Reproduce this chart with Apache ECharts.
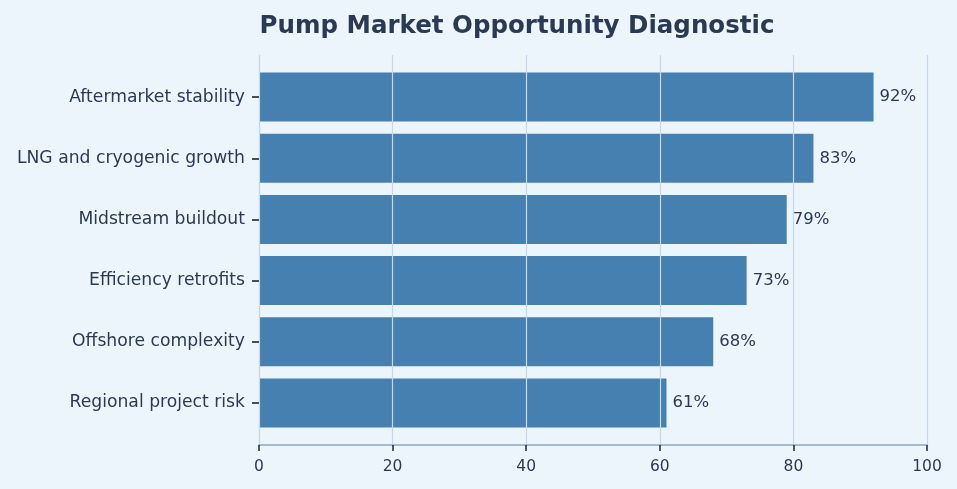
<!DOCTYPE html>
<html>
<head>
<meta charset="utf-8">
<script src="https://cdn.jsdelivr.net/npm/echarts@6/dist/echarts.min.js"></script>
<style>
  html, body { margin: 0; padding: 0; background: #EDF5FC; }
  #chart { width: 957px; height: 489px; }
</style>
</head>
<body>
<div id="chart"></div>
<script>
// drivers, top to bottom as drawn
var categories = ['Aftermarket stability', 'LNG and cryogenic growth', 'Midstream buildout',
                  'Efficiency retrofits', 'Offshore complexity', 'Regional project risk'];
var scores = [92, 83, 79, 73, 68, 61];
var xTicks = [0, 20, 40, 60, 80, 100];

var textColor = '#2B3A52';
var font = 'DejaVu Sans';
var chart = echarts.init(document.getElementById('chart'));

// grid 0 carries the frame, x ticks and grid lines; grid 1 holds the bars
// (inset so the bars keep the same padding as the source plot)
var option = {
    backgroundColor: '#EDF5FC',
    title: {
        text: 'Pump Market Opportunity Diagnostic',
        left: 512,
        textAlign: 'center',
        top: 9,
        textStyle: { fontSize: 24.5, fontWeight: 'bold', color: textColor, fontFamily: font }
    },
    grid: [
        { left: 259, right: 30, top: 55, bottom: 44 },
        { left: 259, right: 30, top: 66.5, bottom: 55.5 }
    ],
    xAxis: [{
        gridIndex: 0,
        type: 'value',
        min: xTicks[0],
        max: xTicks[xTicks.length - 1],
        interval: 20,
        z: 5,
        axisLine: { show: true, lineStyle: { color: '#8FA6BC', width: 1.5 } },
        axisTick: { show: true, length: 6, lineStyle: { color: '#222222', width: 1.5 } },
        axisLabel: { color: textColor, fontSize: 15.5, margin: 14, fontFamily: font },
        splitLine: { show: true, lineStyle: { color: '#C5D7E8', width: 1.2 } }
    }, {
        gridIndex: 1,
        type: 'value',
        min: xTicks[0],
        max: xTicks[xTicks.length - 1],
        show: false
    }],
    yAxis: [{
        gridIndex: 0,
        type: 'value',
        min: 0,
        max: 1,
        axisLine: { show: true, lineStyle: { color: '#D2E0EE', width: 1.2 } },
        axisTick: { show: false },
        axisLabel: { show: false },
        splitLine: { show: false }
    }, {
        gridIndex: 1,
        type: 'category',
        inverse: true,
        data: categories,
        offset: 1,
        axisLine: { show: false },
        axisTick: { show: true, alignWithLabel: true, length: 7, lineStyle: { color: '#222222', width: 1.6 } },
        axisLabel: { color: textColor, fontSize: 17.2, margin: 13, fontFamily: font }
    }],
    series: [{
        type: 'bar',
        xAxisIndex: 1,
        yAxisIndex: 1,
        data: scores,
        barCategoryGap: '20%',
        z: 2,
        itemStyle: { color: '#4680B0' },
        label: {
            show: true,
            position: 'right',
            distance: 6,
            color: textColor,
            fontSize: 16.5,
            fontFamily: font,
            formatter: function (p) { return p.value + '%'; }
        }
    }]
};
chart.setOption(option);
</script>
</body>
</html>
